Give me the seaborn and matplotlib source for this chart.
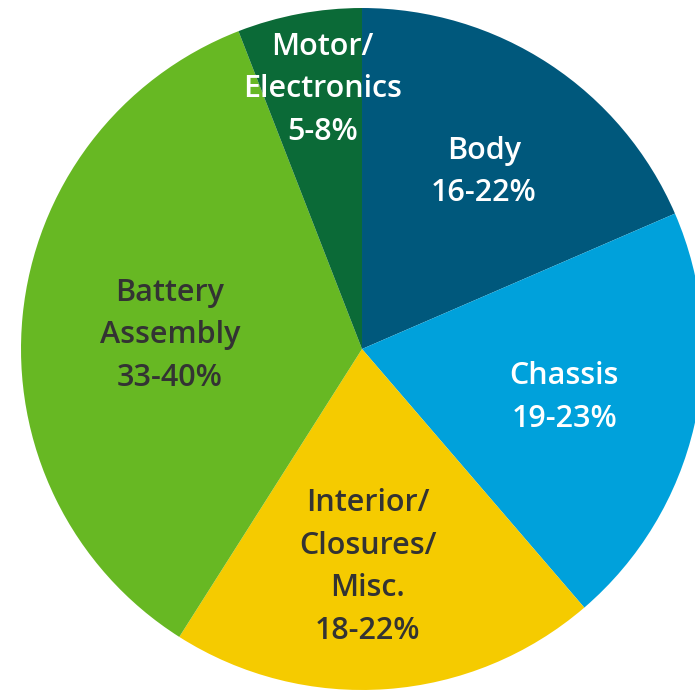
import numpy as np
import matplotlib
matplotlib.use("Agg")
import matplotlib.pyplot as plt
import seaborn as sns

sns.set_theme(style="white")
plt.rcParams['font.family'] = ['Open Sans', 'DejaVu Sans']

categories = ["Body", "Chassis", "Interior/\nClosures/\nMisc.", "Battery\nAssembly", "Motor/\nElectronics"]
ranges = ["16-22%", "19-23%", "18-22%", "33-40%", "5-8%"]
shares = [18.5, 20.2, 20.3, 35.1, 5.9]
colors = ["#00587c", "#00a1db", "#f5cb00", "#67b823", "#0b6a37"]
text_colors = ["white", "white", "#333333", "#333333", "white"]
label_radius = [0.63, 0.61, 0.64, 0.565, 0.77]
label_shift = [-1.2, -0.5, -2.6, 1.5, -2.0]

fig = plt.figure(figsize=(6.95, 6.92), dpi=100)
ax = fig.add_axes([0, 0, 1, 1])
wedges, _ = ax.pie(shares, colors=colors, startangle=90, counterclock=False,
                   radius=1.0, center=(0, 0), wedgeprops=dict(linewidth=0))
for w, cat, rng, tc, r, sh in zip(wedges, categories, ranges, text_colors, label_radius, label_shift):
    mid = np.deg2rad((w.theta1 + w.theta2) / 2 + sh)
    ax.text(r * np.cos(mid), r * np.sin(mid), f"{cat}\n{rng}", ha="center", va="center",
            color=tc, fontsize=22, fontweight="semibold", linespacing=1.55)
ax.set_xlim(-1.0616, 0.9765)
ax.set_ylim(-1.0059, 1.0235)
ax.set_aspect("auto")
ax.axis("off")
fig.savefig("out.png", dpi=100)
